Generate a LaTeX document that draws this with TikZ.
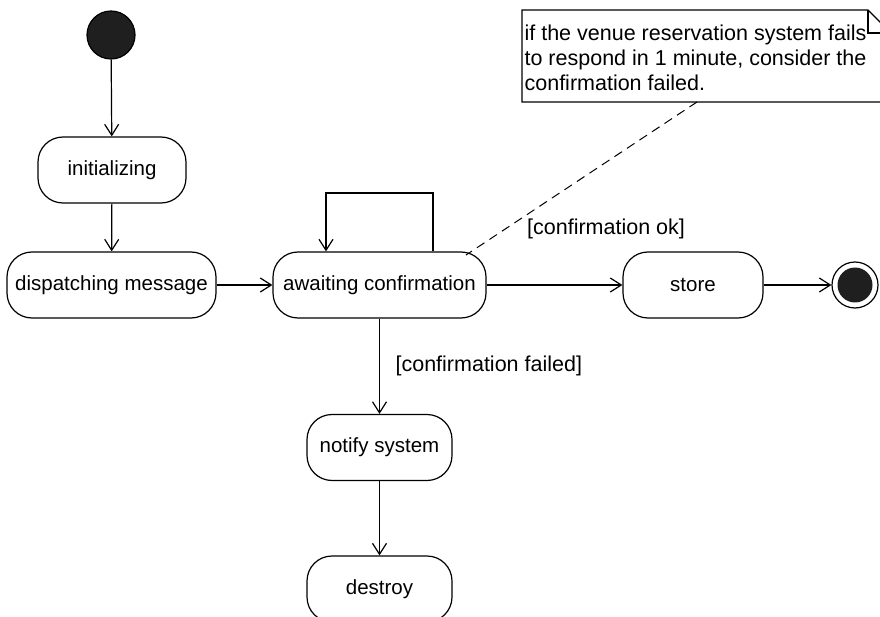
\documentclass[tikz,border=0pt]{standalone}
\usepackage{fontspec}
\setmainfont{Liberation Sans}
\usetikzlibrary{arrows.meta}
\begin{document}
\begin{tikzpicture}[x=1pt,y=-1pt,
  line width=1.2pt,
  font=\fontsize{20.5}{25}\selectfont,
  state/.style={draw, rounded corners=25pt, minimum height=66pt, inner sep=0pt},
  flow/.style={-{Straight Barb[length=11pt,width=14pt]}},
  guard/.style={font=\fontsize{21.5}{25}\selectfont, inner sep=0pt}]
\useasboundingbox (0,0) rectangle (880,617);
\begin{scope}
\clip (0,0) rectangle (880,617);

% states
\node[circle, fill=black!88, draw, minimum size=48pt, inner sep=0pt] (init) at (111,35) {};
\node[state, minimum width=148pt] (initializing) at (112,170) {initializing};
\node[state, minimum width=209pt] (dispatch) at (111.5,285) {dispatching message};
\node[state, minimum width=213pt] (await) at (379.5,285) {awaiting confirmation};
\node[state, minimum width=140pt] (store) at (693,285) {store};
\node[state, minimum width=145pt] (notify) at (379.5,447.5) {notify system};
\node[state, minimum width=145pt] (destroy) at (379.5,589) {destroy};

% final state
\node[circle, draw, minimum size=46pt, inner sep=0pt] (final) at (855,285) {};
\node[circle, fill=black!88, minimum size=35pt, inner sep=0pt] (finaldot) at (final) {};

% note with folded corner
\coordinate (nA) at (522,10);
\coordinate (nB) at (868,10);
\coordinate (nC) at (891,33);
\coordinate (nD) at (891,102);
\coordinate (nE) at (522,102);
\draw (nB) -- (nA) -- (nE) -- (nD) -- (nC) -- cycle;
\draw (nB) |- (nC);
\node[guard, anchor=north west, align=left] (notetext) at (524,24)
  {if the venue reservation system fails\\to respond in 1 minute, consider the\\confirmation failed.};
\coordinate (noteanchor) at (697,102);
\coordinate (awaitanchor) at (466,255);
\draw[dashed, dash pattern=on 9pt off 6pt, line width=1pt] (noteanchor) -- (awaitanchor);

% transitions
\draw[flow] (init) -- (initializing);
\draw[flow] (initializing) -- (dispatch);
\draw[flow] (dispatch) -- (await);
\draw[flow] (await) -- (store);
\node[guard] (okguard) at (606,229) {[confirmation ok]};
\draw[flow] (store) -- (final);
\draw[flow] (await) -- (notify);
\node[guard, anchor=west] (failguard) at (395,366) {[confirmation failed]};
\draw[flow] (notify) -- (destroy);

% self transition
\coordinate (loopR) at (433,193);
\coordinate (loopL) at (326,193);
\draw[flow] (await.north -| loopR) -- (loopR) -- (loopL) -- (await.north -| loopL);
\end{scope}
\end{tikzpicture}
\end{document}
